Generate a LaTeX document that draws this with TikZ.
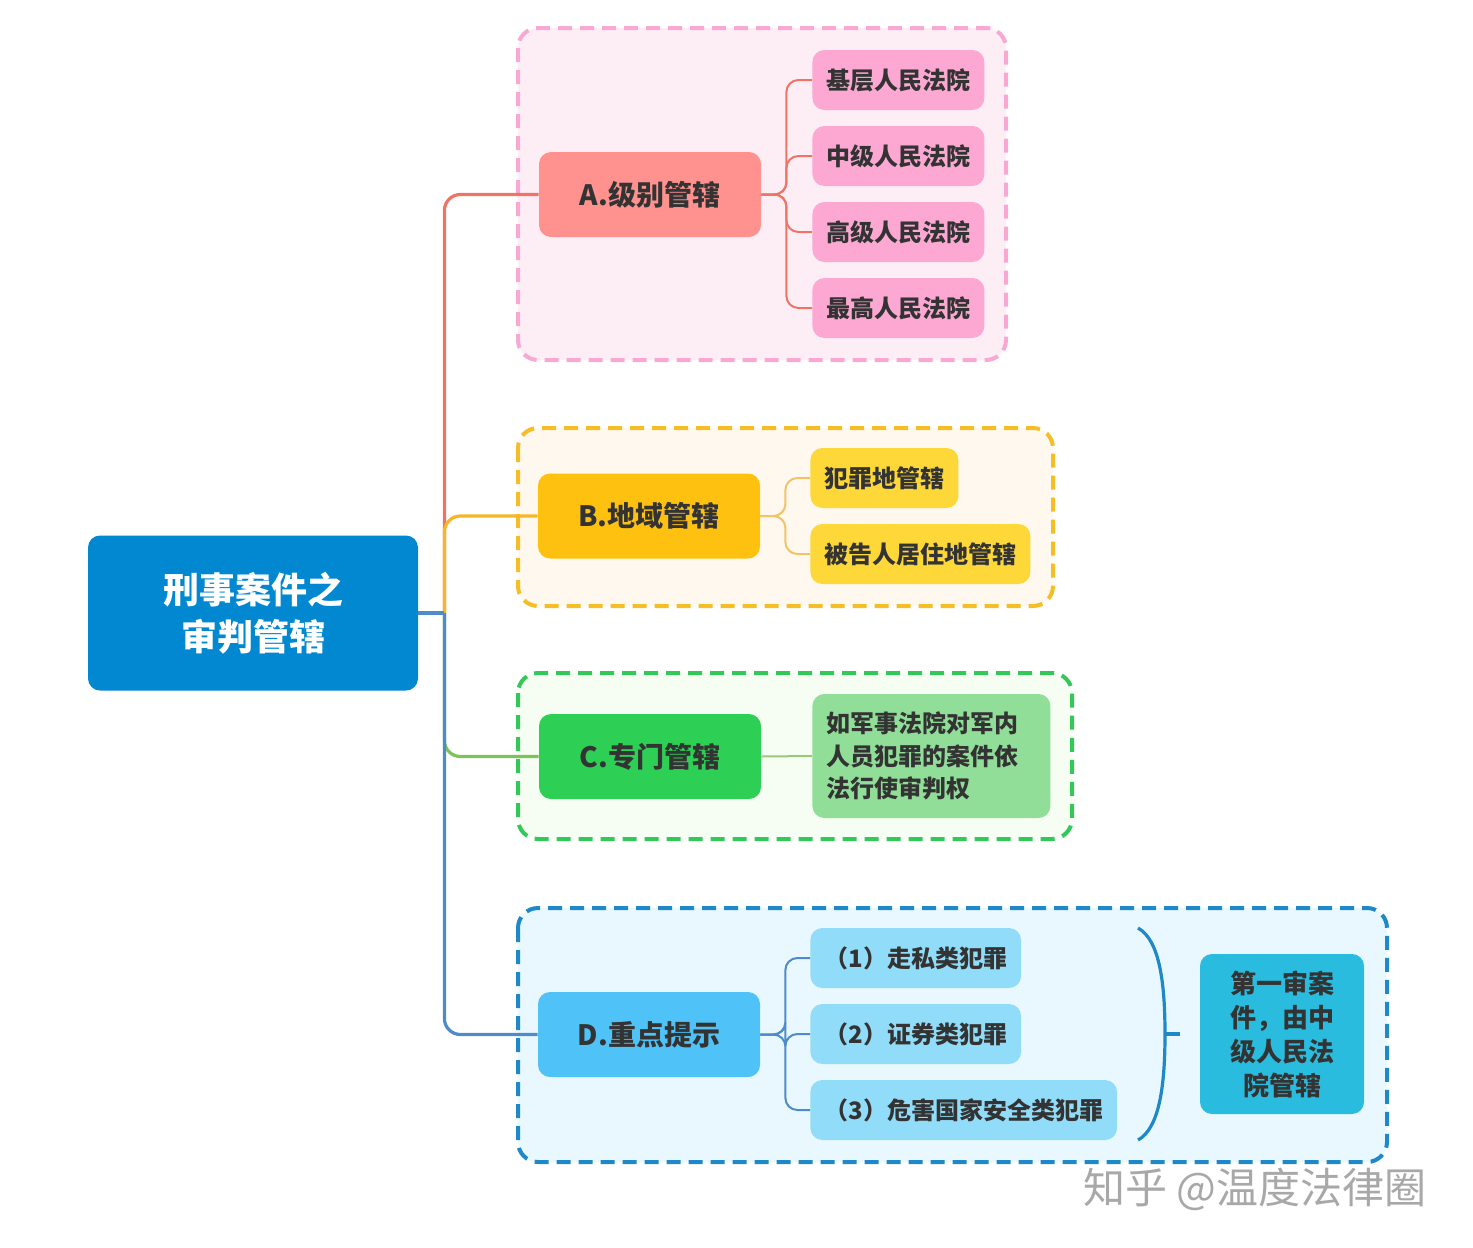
\documentclass[tikz,border=0pt]{standalone}
\usepackage{fontspec}
\setmainfont{Noto Sans CJK SC}
\usetikzlibrary{positioning,calc}

\definecolor{txtdark}{HTML}{333333}
\definecolor{rootblue}{HTML}{0288D1}
\definecolor{Afill}{HTML}{FF928E}
\definecolor{Aleaf}{HTML}{FCA8D3}
\definecolor{Alink}{HTML}{F07466}
\definecolor{Agroup}{HTML}{FDEEF6}
\definecolor{Aborder}{HTML}{F9A8D4}
\definecolor{Bfill}{HTML}{FFC10F}
\definecolor{Bleaf}{HTML}{FDD838}
\definecolor{Blink}{HTML}{F6B626}
\definecolor{Btwig}{HTML}{F0C468}
\definecolor{Bgroup}{HTML}{FFF8EE}
\definecolor{Bborder}{HTML}{F6BE26}
\definecolor{Cfill}{HTML}{2DD055}
\definecolor{Cleaf}{HTML}{90DE98}
\definecolor{Clink}{HTML}{7CC45A}
\definecolor{Ctwig}{HTML}{9CC87E}
\definecolor{Cgroup}{HTML}{F6FDF2}
\definecolor{Cborder}{HTML}{34C85A}
\definecolor{Dfill}{HTML}{4FC3F7}
\definecolor{Dleaf}{HTML}{91DDF9}
\definecolor{Dlink}{HTML}{4F8ACB}
\definecolor{Dgroup}{HTML}{E8F8FE}
\definecolor{Dborder}{HTML}{1F88C9}
\definecolor{sumfill}{HTML}{29BCDF}
\definecolor{wmgray}{HTML}{A8A8A8}

\begin{document}
\begin{tikzpicture}[
        x=0.5pt, y=-0.5pt,
        every node/.style={text=txtdark, font=\bfseries},
        group/.style={dash pattern=on 7pt off 4pt, line width=2pt, rounded corners=10pt},
        rootbox/.style={rectangle, fill=rootblue, rounded corners=6pt, minimum width=165pt, minimum height=77.5pt, align=center, text=white, font=\bfseries\fontsize{18}{23.5}\selectfont},
        mainbox/.style={rectangle, rounded corners=6pt, minimum width=111pt, minimum height=42.5pt, font=\bfseries\fontsize{14}{17}\selectfont},
        leafbox/.style={rectangle, rounded corners=6pt, minimum height=30pt, inner xsep=7pt, anchor=west, font=\bfseries\fontsize{12}{15}\selectfont},
        trunk/.style={line width=1.6pt, rounded corners=8pt},
        twig/.style={line width=1pt, rounded corners=6pt}
    ]
        \fill[white] (0,0) rectangle (1473,1248);
        \useasboundingbox (0,0) rectangle (1473,1248);

        % dashed frames
        \draw[group, draw=Aborder, fill=Agroup] (518,28) rectangle (1006,360);
        \draw[group, draw=Bborder, fill=Bgroup] (518,428) rectangle (1053,606);
        \draw[group, draw=Cborder, fill=Cgroup] (518,673) rectangle (1072,839);
        \draw[group, draw=Dborder, fill=Dgroup] (518,908) rectangle (1387,1162);

        \node[rootbox] (root) at (253,613) {刑事案件之\\审判管辖};
        \coordinate (jn) at ($(root.east)+(26,0)$);

        % A
        \node[mainbox, fill=Afill] (A) at (650,194.5) {A.级别管辖};
        \foreach \t [count=\i] in {基层,中级,高级,最高}
            \node[leafbox, fill=Aleaf] (a\i) at (812,4+76*\i) {\t 人民法院};
        \foreach \i in {1,...,4}
            \draw[twig, Alink] (A.east) -- ++(25,0) |- (a\i.west);

        % B
        \node[mainbox, fill=Bfill] (B) at (649,516) {B.地域管辖};
        \node[leafbox, fill=Bleaf] (b1) at (810,478) {犯罪地管辖};
        \node[leafbox, fill=Bleaf] (b2) at (810,554) {被告人居住地管辖};
        \foreach \i in {1,2}
            \draw[twig, Btwig] (B.east) -- ++(25,0) |- (b\i.west);

        % C
        \node[mainbox, fill=Cfill] (C) at (650,756.5) {C.专门管辖};
        \node[leafbox, fill=Cleaf, text width=105pt, align=left, minimum height=62pt,
              font=\bfseries\fontsize{12}{16.25}\selectfont] (c1) at (812,756)
              {如军事法院对军内\\人员犯罪的案件依\\法行使审判权};
        \draw[twig, Ctwig] (C.east) -- (c1.west);

        % D
        \node[mainbox, fill=Dfill] (D) at (649,1034.5) {D.重点提示};
        \node[leafbox, fill=Dleaf] (d1) at (810,958) {（1）走私类犯罪};
        \node[leafbox, fill=Dleaf] (d2) at (810,1034) {（2）证券类犯罪};
        \node[leafbox, fill=Dleaf] (d3) at (810,1110) {（3）危害国家安全类犯罪};
        \foreach \i in {1,2,3}
            \draw[twig, Dlink] (D.east) -- ++(25,0) |- (d\i.west);

        \node[rectangle, fill=sumfill, rounded corners=6pt, minimum width=82pt, minimum height=80pt,
              align=center, font=\bfseries\fontsize{13}{17}\selectfont] (sum) at (1282,1034)
              {第一审案\\件，由中\\级人民法\\院管辖};
        \coordinate (brtop) at (1138,928);
        \coordinate (brbot) at (1138,1140);
        \coordinate (brtip) at (1165,1034);
        \draw[line width=1.6pt, Dborder] (brtop) .. controls (1160,940) and (1165,985) .. (brtip)
            .. controls (1165,1083) and (1160,1128) .. (brbot);
        \draw[line width=1.6pt, Dborder] (brtip) -- ($(sum.west)+(-20,0)$);

        % trunk from the root
        \draw[trunk, Alink] (jn) |- (A.west);
        \draw[trunk, Blink] (jn) |- (B.west);
        \draw[trunk, Clink] (jn) |- (C.west);
        \draw[trunk, Dlink] (jn) |- (D.west);
        \draw[trunk, Dlink] (root.east) -- (jn);

        \node[font=\fontsize{21}{25}\selectfont, text=wmgray] (wm) at (1255,1189) {知乎 @温度法律圈};
    \end{tikzpicture}
\end{document}
